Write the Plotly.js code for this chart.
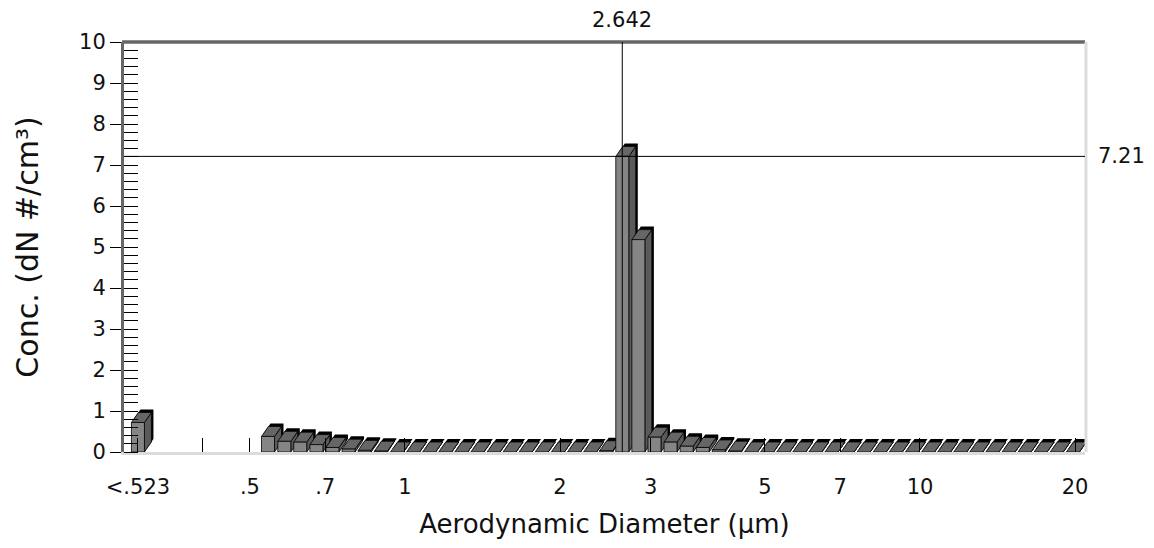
<!DOCTYPE html>
<html>
<head>
<meta charset="utf-8">
<script src="https://cdn.plot.ly/plotly-3.0.1.min.js"></script>
<style>html,body{margin:0;padding:0;background:#fff;}#chart{width:1154px;height:548px;}</style>
</head>
<body>
<div id="chart"></div>
<script>
// ---- data ----
// APS channel midpoints (µm)
const channelMidpoints = [0.542, 0.583, 0.626, 0.673, 0.723, 0.777, 0.835, 0.898, 0.965,
  1.037, 1.114, 1.197, 1.286, 1.382, 1.486, 1.596, 1.715, 1.843, 1.981, 2.129, 2.288,
  2.458, 2.642, 2.839, 3.051, 3.278, 3.523, 3.786, 4.068, 4.371, 4.698,
  5.048, 5.425, 5.829, 6.264, 6.732, 7.234, 7.774, 8.354, 8.977, 9.647,
  10.37, 11.14, 11.97, 12.86, 13.82, 14.86, 15.96, 17.15, 18.43, 19.81];
// concentration dN (#/cm³) per channel
const channelConc = [0.38, 0.26, 0.24, 0.18, 0.11, 0.07, 0.04, 0.02, 0,
  0, 0, 0, 0, 0, 0, 0, 0, 0, 0, 0, 0,
  0.03, 7.21, 5.18, 0.36, 0.24, 0.14, 0.11, 0.05, 0.02, 0,
  0, 0, 0, 0, 0, 0, 0, 0, 0, 0,
  0, 0, 0, 0, 0, 0, 0, 0, 0, 0];
// the "<.523" channel, drawn at its own slot left of the sized channels
const lowChannelLabel = '<.523';
const lowChannelSlot = 0.303;
const lowChannelConc = 0.72;
// x tick marks
const tickDiameters = [0.303, 0.405, 0.5, 0.7, 1, 2, 3, 5, 7, 10, 20];
const tickLabels = ['<.523', '', '.5', '.7', '1', '2', '3', '5', '7', '10', '20'];
// y ticks
const yTicks = [0, 1, 2, 3, 4, 5, 6, 7, 8, 9, 10];
// cursor readout
const cursorX = 2.642;
const cursorY = 7.21;

// ---- layout geometry ----
const W = 1154, H = 548;
const M = {l: 124, r: 69, t: 42, b: 96};
const xRange = [-0.5456, 1.3204];
const yRange = [0, 10];
const pxX = (W - M.l - M.r) / (xRange[1] - xRange[0]);
const pxY = (H - M.t - M.b) / (yRange[1] - yRange[0]);
const frontW = 13 / pxX;   // front face width (log units)
const dX = 7 / pxX, dY = 10 / pxY;  // 3D depth offset
const sX = 2 / pxX, sY = 3 / pxY;   // dark back edge

const FONT = 'DejaVu Sans, Verdana, sans-serif';
const TXT = '#111';

const positions = [Math.log10(lowChannelSlot)].concat(channelMidpoints.map(d => Math.log10(d)));
const values = [lowChannelConc].concat(channelConc);

function poly(pts, fill, lw) {
  const xs = pts.map(p => p[0]).concat([pts[0][0]]);
  const ys = pts.map(p => p[1]).concat([pts[0][1]]);
  return {type: 'scatter', mode: 'lines', x: xs, y: ys, fill: 'toself', fillcolor: fill,
    line: {color: '#000', width: lw}, hoverinfo: 'skip', showlegend: false};
}

const traces = [];
positions.forEach((c, i) => {
  const v = values[i];
  const x0 = c - frontW / 2, x1 = c + frontW / 2;
  const back = [[x0, v], [x0 + dX, v + dY], [x1 + dX, v + dY], [x1 + dX, dY], [x1, 0], [x1, v]]
    .map(p => [p[0] + sX, p[1] + sY]);
  traces.push(poly(back, '#000', 0));
  traces.push(poly([[x1, 0], [x1 + dX, dY], [x1 + dX, v + dY], [x1, v]], '#5a5a5a', 0.8));
  traces.push(poly([[x0, v], [x0 + dX, v + dY], [x1 + dX, v + dY], [x1, v]], '#666666', 0.8));
  if (v > 0) traces.push(poly([[x0, 0], [x0, v], [x1, v], [x1, 0]], '#858585', 0.8));
});
traces.push({type: 'scatter', x: [], y: [], yaxis: 'y2', showlegend: false});

const layout = {
  width: W, height: H,
  margin: M,
  paper_bgcolor: '#fff', plot_bgcolor: '#fff',
  font: {family: FONT, color: TXT, size: 21},
  showlegend: false,
  xaxis: {
    range: xRange, type: 'linear', showgrid: false, zeroline: false,
    tickvals: tickDiameters.map(d => Math.log10(d)), ticktext: tickLabels,
    ticks: 'inside', ticklen: 14, tickcolor: '#000', tickwidth: 1,
    showline: true, linecolor: '#dcdcdc', linewidth: 3,
    tickfont: {family: FONT, size: 21, color: TXT},
    ticklabelstandoff: 14,
    title: {text: 'Aerodynamic Diameter (µm)', font: {family: FONT, size: 26, color: TXT}, standoff: 17}
  },
  yaxis: {
    range: yRange, showgrid: false, zeroline: false,
    tickvals: yTicks,
    ticks: 'outside', ticklen: 11, tickcolor: '#000', tickwidth: 1,
    minor: {dtick: 0.2, ticks: 'inside', ticklen: 14, tickcolor: '#000', tickwidth: 1},
    showline: true, linecolor: '#666', linewidth: 3,
    tickfont: {family: FONT, size: 21, color: TXT},
    title: {text: 'Conc. (dN #/cm³)', font: {family: FONT, size: 30, color: TXT}, standoff: 32}
  },
  yaxis2: {
    overlaying: 'y', matches: 'y', range: yRange, showgrid: false, zeroline: false,
    tickvals: yTicks, showticklabels: false,
    ticks: 'inside', ticklen: 7, tickcolor: '#000', tickwidth: 1, side: 'left'
  },
  shapes: [
    {type: 'line', xref: 'paper', yref: 'paper', x0: -0.002, x1: 1, y0: 1, y1: 1, line: {color: '#666', width: 3.5}},
    {type: 'line', xref: 'paper', yref: 'paper', x0: 1.001, x1: 1.001, y0: 0, y1: 1, line: {color: '#dcdcdc', width: 3}},
    {type: 'line', xref: 'x', yref: 'paper', x0: Math.log10(cursorX), x1: Math.log10(cursorX), y0: 0, y1: 1, line: {color: '#000', width: 1}, layer: 'above'},
    {type: 'line', xref: 'paper', yref: 'y', x0: 0, x1: 1, y0: cursorY, y1: cursorY, line: {color: '#000', width: 1}, layer: 'above'}
  ],
  annotations: [
    {xref: 'x', yref: 'paper', x: Math.log10(cursorX), y: 1, yshift: 22, text: cursorX.toFixed(3), showarrow: false,
     xanchor: 'center', yanchor: 'middle', font: {family: FONT, size: 21, color: TXT}},
    {xref: 'paper', yref: 'y', x: 1, y: cursorY, xshift: 11, text: cursorY.toFixed(2), showarrow: false,
     xanchor: 'left', yanchor: 'middle', font: {family: FONT, size: 21, color: TXT}}
  ]
};

Plotly.newPlot('chart', traces, layout, {displayModeBar: false, staticPlot: true});
</script>
</body>
</html>
